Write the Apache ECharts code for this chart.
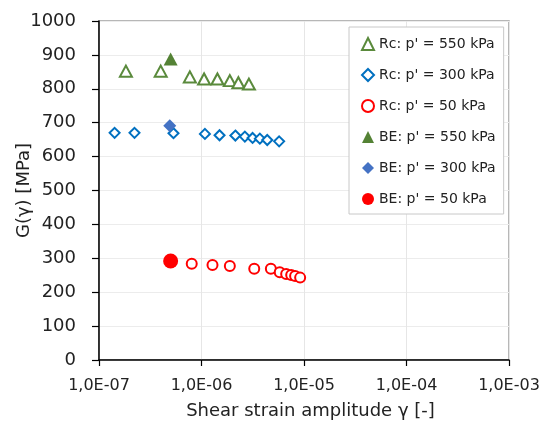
<!DOCTYPE html>
<html>
<head>
<meta charset="utf-8">
<script src="https://cdn.jsdelivr.net/npm/echarts@6/dist/echarts.min.js"></script>
<style>
  html, body { margin: 0; padding: 0; background: #fff; }
  #chart { width: 546px; height: 432px; }
</style>
</head>
<body>
<div id="chart"></div>
<script>
// Resonant column (Rc) measurements: shear strain amplitude and shear modulus G [MPa]
const rc550Strain = [1.83e-7, 4.0e-7, 7.7e-7, 1.06e-6, 1.43e-6, 1.89e-6, 2.29e-6, 2.9e-6];
const rc550G      = [852, 852, 835, 829, 829, 824, 818, 814];

const rc300Strain = [1.42e-7, 2.22e-7, 5.33e-7, 1.08e-6, 1.50e-6, 2.14e-6, 2.65e-6, 3.15e-6, 3.71e-6, 4.38e-6, 5.72e-6];
const rc300G      = [670, 670, 669, 667, 663, 662, 659, 655, 653, 649, 645];

const rc50Strain  = [8.03e-7, 1.28e-6, 1.89e-6, 3.27e-6, 4.75e-6, 5.80e-6, 6.70e-6, 7.50e-6, 8.19e-6, 9.17e-6];
const rc50G       = [284, 280, 277, 269, 269, 259, 254, 251, 248, 243];

// Bender element (BE) measurements
const be550Strain = [5.0e-7];
const be550G      = [888];
const be300Strain = [4.9e-7];
const be300G      = [691];
const be50Strain  = [5.0e-7];
const be50G       = [292];

const seriesNames = [
  "Rc: p' = 550 kPa", "Rc: p' = 300 kPa", "Rc: p' = 50 kPa",
  "BE: p' = 550 kPa", "BE: p' = 300 kPa", "BE: p' = 50 kPa"
];

const xMin = 1e-7, xMax = 1e-3;
const yMin = 0, yMax = 1000, yStep = 100;

function pairs(xs, ys) { return xs.map((x, i) => [x, ys[i]]); }

function sciLabel(v) {
  const e = Math.round(Math.log10(v));
  const sign = e < 0 ? '-' : '+';
  return '1,0E' + sign + String(Math.abs(e)).padStart(2, '0');
}

const FONT = 'DejaVu Sans';
const chart = echarts.init(document.getElementById('chart'), null, { renderer: 'canvas' });

function scatter(name, data, symbol, size, color, filled) {
  return {
    name: name,
    type: 'scatter',
    data: data,
    symbol: symbol,
    symbolSize: size,
    itemStyle: filled
      ? { color: color, opacity: 1 }
      : { color: color, borderColor: color, borderWidth: 1.2, opacity: 1 },
    z: filled ? 3 : 2
  };
}

chart.setOption({
  animation: false,
  backgroundColor: '#ffffff',
  grid: {
    left: 99, right: 37, top: 21, bottom: 72,
    containLabel: false, outerBoundsMode: 'none',
    show: true, borderColor: '#a0a0a0', borderWidth: 1.5
  },
  legend: {
    orient: 'vertical',
    left: 349, top: 27,
    backgroundColor: '#ffffff',
    borderColor: '#c8c8c8', borderWidth: 1,
    padding: [9, 8, 7, 12],
    itemWidth: 12, itemHeight: 12, itemGap: 15,
    textStyle: { fontFamily: FONT, fontSize: 14, color: '#222', lineHeight: 16 },
    data: seriesNames
  },
  xAxis: {
    type: 'log', logBase: 10, min: xMin, max: xMax,
    name: 'Shear strain amplitude \u03b3 [-]',
    nameLocation: 'middle', nameGap: 42, nameMoveOverlap: false,
    nameTextStyle: { fontFamily: FONT, fontSize: 18, color: '#222', padding: [0, 0, 0, 13] },
    axisLine: { show: true, onZero: false, lineStyle: { color: '#000', width: 1.5 } },
    axisTick: { show: true, inside: false, length: 6, lineStyle: { color: '#000', width: 1.2 } },
    minorTick: { show: false },
    axisLabel: { formatter: sciLabel, fontFamily: FONT, fontSize: 16, color: '#222', margin: 18 },
    splitLine: { show: true, lineStyle: { color: '#e6e6e6', width: 1 } }
  },
  yAxis: {
    type: 'value', min: yMin, max: yMax, interval: yStep,
    name: 'G(\u03b3) [MPa]',
    nameLocation: 'middle', nameGap: 66, nameRotate: 90, nameMoveOverlap: false,
    nameTextStyle: { fontFamily: FONT, fontSize: 18, color: '#222' },
    axisLine: { show: true, lineStyle: { color: '#000', width: 1.5 } },
    axisTick: { show: true, inside: false, length: 7, lineStyle: { color: '#000', width: 1.2 } },
    axisLabel: { formatter: v => String(v), fontFamily: FONT, fontSize: 18, color: '#222', margin: 23 },
    splitLine: { show: true, lineStyle: { color: '#ececec', width: 1 } }
  },
  series: [
    scatter(seriesNames[0], pairs(rc550Strain, rc550G), 'emptyTriangle', [12, 11], '#5a8a3c', false),
    scatter(seriesNames[1], pairs(rc300Strain, rc300G), 'emptyDiamond', [10, 10], '#0070c0', false),
    scatter(seriesNames[2], pairs(rc50Strain, rc50G), 'emptyCircle', 10, '#ff0000', false),
    scatter(seriesNames[3], pairs(be550Strain, be550G), 'triangle', [14, 13], '#548235', true),
    scatter(seriesNames[4], pairs(be300Strain, be300G), 'diamond', [13, 13], '#4472c4', true),
    scatter(seriesNames[5], pairs(be50Strain, be50G), 'circle', 15, '#ff0000', true)
  ]
});
</script>
</body>
</html>
